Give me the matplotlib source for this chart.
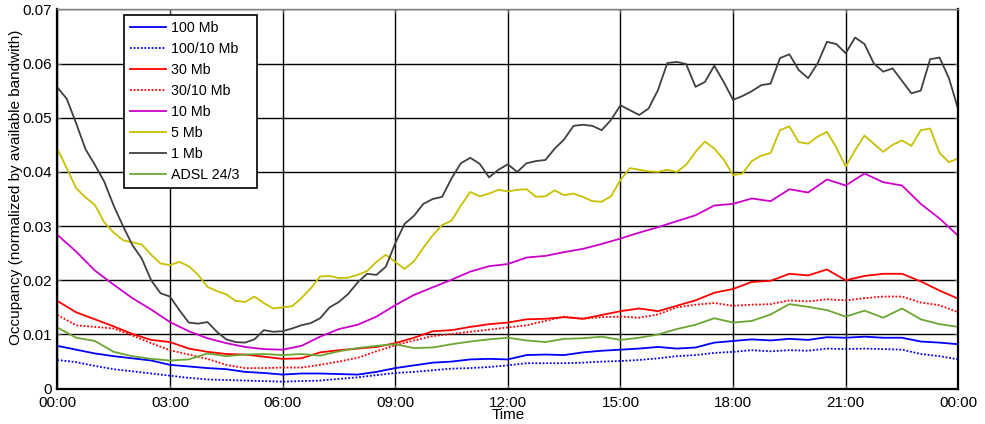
import numpy as np
import matplotlib
matplotlib.use("Agg")
import matplotlib.pyplot as plt

plt.rcParams["font.family"] = ["Liberation Sans", "DejaVu Sans"]

# ---- data -------------------------------------------------------------
# fine grid (every 15 min) for the two noisy series
hours_fine = np.arange(0, 24.01, 0.25)
one_mb = [
    0.0556, 0.0535, 0.0490, 0.0442, 0.0413, 0.0382, 0.0338, 0.0300,
    0.0265, 0.0240, 0.0200, 0.0176, 0.0170, 0.0145, 0.0122, 0.0120,
    0.0123, 0.0105, 0.0091, 0.0086, 0.0085, 0.0091, 0.0108, 0.0105,
    0.0106, 0.0111, 0.0117, 0.0121, 0.0130, 0.0150, 0.0160, 0.0175,
    0.0196, 0.0212, 0.0210, 0.0225, 0.0268, 0.0304, 0.0319, 0.0341,
    0.0350, 0.0354, 0.0388, 0.0416, 0.0426, 0.0415, 0.0390, 0.0404,
    0.0414, 0.0400, 0.0416, 0.0420, 0.0422, 0.0443, 0.0460, 0.0485,
    0.0487, 0.0485, 0.0477, 0.0496, 0.0523, 0.0514, 0.0505, 0.0517,
    0.0551, 0.0601, 0.0603, 0.0599, 0.0557, 0.0566, 0.0596, 0.0566,
    0.0533, 0.0540, 0.0549, 0.0560, 0.0563, 0.0610, 0.0617, 0.0588,
    0.0573, 0.0600, 0.0640, 0.0636, 0.0619, 0.0648, 0.0636, 0.0600,
    0.0585, 0.0591, 0.0568, 0.0545, 0.0550, 0.0608, 0.0611, 0.0573,
    0.0515,
]
five_mb = [
    0.0443, 0.0407, 0.0370, 0.0353, 0.0339, 0.0307, 0.0288, 0.0274,
    0.0270, 0.0266, 0.0247, 0.0231, 0.0228, 0.0234, 0.0226, 0.0210,
    0.0188, 0.0180, 0.0174, 0.0162, 0.0160, 0.0170, 0.0158, 0.0148,
    0.0150, 0.0152, 0.0167, 0.0185, 0.0207, 0.0208, 0.0204, 0.0205,
    0.0210, 0.0217, 0.0234, 0.0247, 0.0234, 0.0221, 0.0235, 0.0260,
    0.0283, 0.0302, 0.0310, 0.0338, 0.0363, 0.0355, 0.0360, 0.0367,
    0.0364, 0.0367, 0.0368, 0.0354, 0.0355, 0.0366, 0.0357, 0.0360,
    0.0354, 0.0346, 0.0345, 0.0355, 0.0385, 0.0407, 0.0404, 0.0401,
    0.0400, 0.0404, 0.0400, 0.0413, 0.0437, 0.0456, 0.0443, 0.0423,
    0.0394, 0.0397, 0.0420, 0.0430, 0.0435, 0.0477, 0.0484, 0.0455,
    0.0452, 0.0465, 0.0474, 0.0445, 0.0410, 0.0440, 0.0467, 0.0452,
    0.0437, 0.0450, 0.0458, 0.0448, 0.0477, 0.0480, 0.0435, 0.0418,
    0.0425,
]

# coarser grid (every 30 min) for the smoother series
hours = np.arange(0, 24.01, 0.5)
ten_mb = [
    0.0284, 0.0253, 0.0218, 0.0192, 0.0167, 0.0146, 0.0123, 0.0106,
    0.0093, 0.0084, 0.0077, 0.0073, 0.0072, 0.0079, 0.0096, 0.0110,
    0.0118, 0.0133, 0.0154, 0.0173, 0.0187, 0.0201, 0.0216, 0.0226,
    0.0230, 0.0242, 0.0245, 0.0252, 0.0258, 0.0267, 0.0277, 0.0288,
    0.0298, 0.0309, 0.0320, 0.0338, 0.0341, 0.0351, 0.0346, 0.0368,
    0.0362, 0.0386, 0.0375, 0.0397, 0.0381, 0.0375, 0.0341, 0.0314,
    0.0282,
]
thirty_mb = [
    0.0162, 0.0141, 0.0128, 0.0115, 0.0101, 0.0090, 0.0086, 0.0074,
    0.0068, 0.0064, 0.0063, 0.0059, 0.0055, 0.0056, 0.0067, 0.0071,
    0.0074, 0.0077, 0.0084, 0.0094, 0.0106, 0.0108, 0.0114, 0.0119,
    0.0122, 0.0128, 0.0129, 0.0132, 0.0129, 0.0136, 0.0143, 0.0148,
    0.0143, 0.0153, 0.0163, 0.0177, 0.0184, 0.0197, 0.0199, 0.0212,
    0.0209, 0.0220, 0.0200, 0.0208, 0.0212, 0.0212, 0.0198, 0.0181,
    0.0166,
]
thirty_ten_mb = [
    0.0136, 0.0117, 0.0114, 0.0111, 0.0098, 0.0084, 0.0071, 0.0063,
    0.0055, 0.0044, 0.0038, 0.0038, 0.0039, 0.0039, 0.0044, 0.0050,
    0.0057, 0.0069, 0.0080, 0.0089, 0.0097, 0.0101, 0.0105, 0.0109,
    0.0113, 0.0117, 0.0125, 0.0133, 0.0129, 0.0132, 0.0133, 0.0131,
    0.0137, 0.0150, 0.0155, 0.0158, 0.0153, 0.0155, 0.0156, 0.0163,
    0.0161, 0.0165, 0.0163, 0.0167, 0.0170, 0.0170, 0.0159, 0.0154,
    0.0141,
]
adsl = [
    0.0113, 0.0094, 0.0088, 0.0068, 0.0060, 0.0055, 0.0052, 0.0054,
    0.0065, 0.0060, 0.0063, 0.0064, 0.0062, 0.0064, 0.0061, 0.0069,
    0.0075, 0.0079, 0.0082, 0.0075, 0.0076, 0.0082, 0.0087, 0.0091,
    0.0094, 0.0089, 0.0086, 0.0092, 0.0093, 0.0096, 0.0090, 0.0094,
    0.0100, 0.0110, 0.0118, 0.0130, 0.0122, 0.0125, 0.0137, 0.0156,
    0.0151, 0.0145, 0.0133, 0.0144, 0.0131, 0.0148, 0.0128, 0.0119,
    0.0114,
]
hundred_mb = [
    0.0079, 0.0072, 0.0065, 0.0060, 0.0056, 0.0052, 0.0044, 0.0041,
    0.0038, 0.0036, 0.0031, 0.0029, 0.0026, 0.0028, 0.0028, 0.0027,
    0.0026, 0.0031, 0.0038, 0.0043, 0.0048, 0.0050, 0.0054, 0.0055,
    0.0054, 0.0062, 0.0063, 0.0062, 0.0067, 0.0070, 0.0072, 0.0074,
    0.0077, 0.0074, 0.0076, 0.0085, 0.0088, 0.0091, 0.0089, 0.0092,
    0.0090, 0.0095, 0.0094, 0.0096, 0.0094, 0.0094, 0.0087, 0.0085,
    0.0082,
]
hundred_ten_mb = [
    0.0053, 0.0049, 0.0042, 0.0036, 0.0032, 0.0028, 0.0024, 0.0020,
    0.0017, 0.0016, 0.0015, 0.0014, 0.0013, 0.0014, 0.0015, 0.0018,
    0.0021, 0.0025, 0.0029, 0.0031, 0.0034, 0.0037, 0.0038, 0.0040,
    0.0043, 0.0047, 0.0047, 0.0047, 0.0048, 0.0050, 0.0051, 0.0053,
    0.0056, 0.0060, 0.0062, 0.0066, 0.0068, 0.0071, 0.0069, 0.0071,
    0.0070, 0.0074, 0.0073, 0.0074, 0.0073, 0.0072, 0.0064, 0.0060,
    0.0054,
]

x_ticks = [0, 3, 6, 9, 12, 15, 18, 21, 24]
x_labels = ["00:00", "03:00", "06:00", "09:00", "12:00",
            "15:00", "18:00", "21:00", "00:00"]
y_ticks = [0, 0.01, 0.02, 0.03, 0.04, 0.05, 0.06, 0.07]
y_labels = ["0", "0.01", "0.02", "0.03", "0.04", "0.05", "0.06", "0.07"]

# ---- figure -----------------------------------------------------------
fig = plt.figure(figsize=(9.85, 4.24), dpi=100)
ax = fig.add_axes([0.0582, 0.0833, 0.9147, 0.8947])

dot = (0, (1, 1))
lw = 1.3
ax.plot(hours, hundred_mb, color="#0000ff", lw=lw, label="100 Mb")
ax.plot(hours, hundred_ten_mb, color="#0000ff", lw=lw, ls=dot, label="100/10 Mb")
ax.plot(hours, thirty_mb, color="#ff0000", lw=lw, label="30 Mb")
ax.plot(hours, thirty_ten_mb, color="#ff0000", lw=lw, ls=dot, label="30/10 Mb")
ax.plot(hours, ten_mb, color="#cc00cc", lw=lw, label="10 Mb")
ax.plot(hours_fine, five_mb, color="#c8c000", lw=lw, label="5 Mb")
ax.plot(hours_fine, one_mb, color="#404040", lw=lw, label="1 Mb")
ax.plot(hours, adsl, color="#6aa632", lw=lw, label="ADSL 24/3")

ax.set_xlim(0, 24)
ax.set_ylim(0, 0.07)
ax.set_xticks(x_ticks)
ax.set_xticklabels(x_labels)
ax.set_yticks(y_ticks)
ax.set_yticklabels(y_labels)
ax.tick_params(direction="in", length=3, labelsize=11, top=True, right=True,
               color="#606060")
ax.tick_params(axis="x", pad=5)
ax.tick_params(axis="y", pad=4)
ax.grid(True, color="black", lw=1.0)
ax.set_axisbelow(True)

for side in ("left", "bottom", "right"):
    ax.spines[side].set_linewidth(1.6)
    ax.spines[side].set_color("black")
ax.spines["top"].set_linewidth(1.0)
ax.spines["top"].set_color("#808080")

ax.set_xlabel("Time", fontsize=11, labelpad=-1)
ax.set_ylabel("Occupancy (normalized by available bandwith)", fontsize=11)
ax.yaxis.set_label_coords(-0.038, 0.53)

leg = ax.legend(loc="upper left", bbox_to_anchor=(0.074, 0.5, 0.1476, 0.485),
                mode="expand", borderaxespad=0, fontsize=10.3, fancybox=False,
                framealpha=1, edgecolor="black", handlelength=2.5,
                handletextpad=0.35, labelspacing=0.48, borderpad=0.45)
leg.get_frame().set_linewidth(1.2)

fig.savefig("out.png", dpi=100)
